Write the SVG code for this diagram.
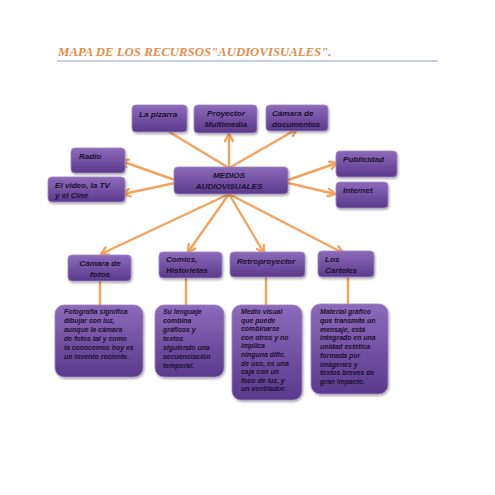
<svg xmlns="http://www.w3.org/2000/svg" width="495" height="495" viewBox="0 0 495 495">
<defs>
<linearGradient id="g" x1="0" y1="0" x2="0" y2="1">
<stop offset="0" stop-color="#8C6BBA"/>
<stop offset="1" stop-color="#5A3A8B"/>
</linearGradient>
<filter id="sh" x="-10%" y="-10%" width="130%" height="140%">
<feDropShadow dx="1" dy="1.5" stdDeviation="1" flood-color="#000" flood-opacity="0.35"/>
</filter>
<marker id="ah" viewBox="0 0 10 10" refX="8.5" refY="5" markerWidth="10" markerHeight="10" orient="auto" markerUnits="userSpaceOnUse">
<path d="M1.5,1 L8.5,5 L1.5,9" fill="none" stroke="#F2A35E" stroke-width="2.4" stroke-linecap="round" stroke-linejoin="miter"/>
</marker>
</defs>
<style>
.b{fill:url(#g);stroke:#9E86C4;stroke-width:0.8;filter:url(#sh)}
.t{font-family:"Liberation Sans",Arial,sans-serif;font-weight:bold;font-style:italic;font-size:8.1px;fill:#1B1030}
.s{font-family:"Liberation Sans",Arial,sans-serif;font-weight:bold;font-style:italic;font-size:6.9px;fill:#1B1030}
.c{fill:none;stroke:#F2A35E;stroke-width:2.4;stroke-linecap:round}
.ttl{font-family:"Liberation Serif","Times New Roman",serif;font-weight:bold;font-style:italic;font-size:12.8px;fill:#E58C4A}
</style>
<rect width="495" height="495" fill="#fff"/>
<g id="title">
<text class="ttl" x="58" y="56">MAPA DE LOS RECURSOS"AUDIOVISUALES".</text>
<line x1="57" y1="61" x2="438" y2="61" stroke="#8DA2C6" stroke-width="1.2"/>
</g>
<g id="connectors">
<line class="c" x1="229" y1="168" x2="156" y2="124" marker-end="url(#ah)"/>
<line class="c" x1="229" y1="168" x2="229" y2="134" marker-end="url(#ah)"/>
<line class="c" x1="229" y1="168" x2="297" y2="129" marker-end="url(#ah)"/>
<line class="c" x1="175" y1="180" x2="121" y2="161" marker-end="url(#ah)"/>
<line class="c" x1="175" y1="183" x2="123" y2="194" marker-end="url(#ah)"/>
<line class="c" x1="288" y1="180" x2="337" y2="163" marker-end="url(#ah)"/>
<line class="c" x1="288" y1="183" x2="335" y2="194" marker-end="url(#ah)"/>
<line class="c" x1="229" y1="194" x2="101" y2="254" marker-end="url(#ah)"/>
<line class="c" x1="229" y1="194" x2="188" y2="252" marker-end="url(#ah)"/>
<line class="c" x1="229" y1="194" x2="264" y2="253" marker-end="url(#ah)"/>
<line class="c" x1="229" y1="194" x2="343" y2="253" marker-end="url(#ah)"/>
<line class="c" x1="100" y1="282" x2="100" y2="305"/>
<line class="c" x1="186" y1="279" x2="186" y2="305"/>
<line class="c" x1="266" y1="278" x2="266" y2="305"/>
<line class="c" x1="348" y1="278" x2="348" y2="304"/>
</g>
<g id="medios"><rect class="b" x="174" y="167" width="114" height="27" rx="4"/>
<text class="t" x="229" y="178" text-anchor="middle">MEDIOS</text><text class="t" x="229" y="188.5" text-anchor="middle">AUDIOVISUALES</text></g>
<g id="pizarra"><rect class="b" x="132" y="105" width="55" height="27" rx="4"/>
<text class="t" x="139" y="117">La pizarra</text></g>
<g id="proyector"><rect class="b" x="194" y="105" width="63" height="28" rx="4"/>
<text class="t" x="226" y="116" text-anchor="middle">Proyector</text><text class="t" x="226" y="126.5" text-anchor="middle">Multimedia</text></g>
<g id="camdoc"><rect class="b" x="266" y="105" width="62" height="26" rx="4"/>
<text class="t" x="272" y="116">Cámara de</text><text class="t" x="272" y="126.5">documentos</text></g>
<g id="radio"><rect class="b" x="71" y="148" width="54" height="25" rx="4"/>
<text class="t" x="79" y="159">Radio</text></g>
<g id="video"><rect class="b" x="48" y="177" width="77" height="25" rx="4"/>
<text class="t" x="55" y="187.5">El video, la TV</text><text class="t" x="55" y="198">y el Cine</text></g>
<g id="publicidad"><rect class="b" x="336" y="151" width="61" height="26" rx="4"/>
<text class="t" x="343" y="162">Publicidad</text></g>
<g id="internet"><rect class="b" x="336" y="182" width="52" height="26" rx="4"/>
<text class="t" x="343" y="193">Internet</text></g>
<g id="camfotos"><rect class="b" x="68" y="255" width="63" height="26" rx="4"/>
<text class="t" x="100" y="266" text-anchor="middle">Cámara de</text><text class="t" x="100" y="277" text-anchor="middle">fotos</text></g>
<g id="comics"><rect class="b" x="159" y="252" width="63" height="26" rx="4"/>
<text class="t" x="166" y="262">Comics,</text><text class="t" x="166" y="273">Historietas</text></g>
<g id="retro"><rect class="b" x="230" y="252" width="75" height="25" rx="4"/>
<text class="t" x="237" y="264">Retroproyector</text></g>
<g id="carteles"><rect class="b" x="318" y="251" width="56" height="26" rx="4"/>
<text class="t" x="325" y="262">Los</text><text class="t" x="325" y="273">Carteles</text></g>
<g id="d-fotos"><rect class="b" x="55" y="305" width="88" height="72" rx="9"/>
<text class="s" x="64" y="314">Fotografía significa</text>
<text class="s" x="64" y="323">dibujar con luz,</text>
<text class="s" x="64" y="332">aunque la cámara</text>
<text class="s" x="64" y="341">de fotos tal y como</text>
<text class="s" x="64" y="350">la conocemos hoy es</text>
<text class="s" x="64" y="359">un invento reciente.</text></g>
<g id="d-comics"><rect class="b" x="155" y="305" width="69" height="72" rx="9"/>
<text class="s" x="163" y="314">Su lenguaje</text>
<text class="s" x="163" y="323">combina</text>
<text class="s" x="163" y="332">gráficos y</text>
<text class="s" x="163" y="341">textos</text>
<text class="s" x="163" y="350">siguiendo una</text>
<text class="s" x="163" y="359">secuenciación</text>
<text class="s" x="163" y="368">temporal.</text></g>
<g id="d-retro"><rect class="b" x="232" y="305" width="70" height="95" rx="9"/>
<text class="s" x="241" y="314">Medio visual</text>
<text class="s" x="241" y="322.6">que puede</text>
<text class="s" x="241" y="331.2">combinarse</text>
<text class="s" x="241" y="339.8">con otros y no</text>
<text class="s" x="241" y="348.4">implica</text>
<text class="s" x="241" y="357">ninguna dific.</text>
<text class="s" x="241" y="365.6">de uso, es una</text>
<text class="s" x="241" y="374.2">caja con un</text>
<text class="s" x="241" y="382.8">foco de luz, y</text>
<text class="s" x="241" y="391.4">un ventilador.</text></g>
<g id="d-carteles"><rect class="b" x="311" y="304" width="77" height="90" rx="9"/>
<text class="s" x="320" y="314">Material gráfico</text>
<text class="s" x="320" y="322.75">que transmite  un</text>
<text class="s" x="320" y="331.5">mensaje, está</text>
<text class="s" x="320" y="340.25">integrado en una</text>
<text class="s" x="320" y="349">unidad estética</text>
<text class="s" x="320" y="357.75">formada por</text>
<text class="s" x="320" y="366.5">imágenes y</text>
<text class="s" x="320" y="375.25">textos breves de</text>
<text class="s" x="320" y="384">gran impacto.</text></g>
</svg>
